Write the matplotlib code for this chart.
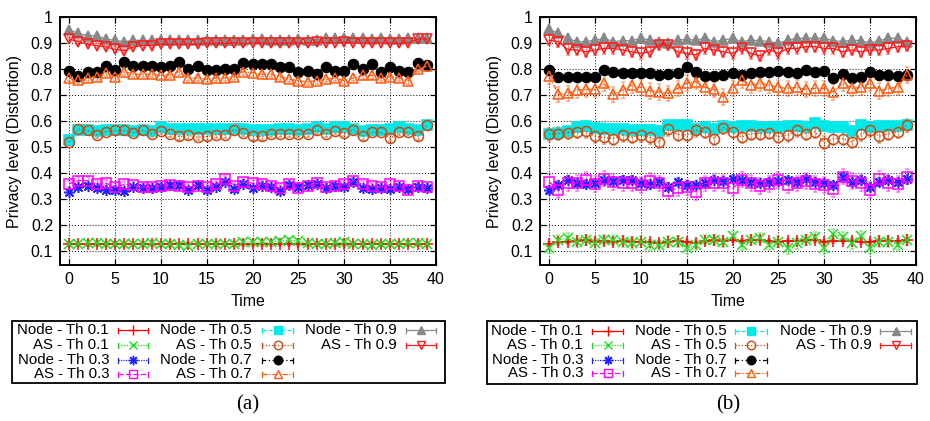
import matplotlib
matplotlib.use("Agg")
import matplotlib.pyplot as plt
from matplotlib.patches import Rectangle
from matplotlib.colors import to_rgba

plt.rcParams['font.family'] = ['Liberation Sans', 'DejaVu Sans']

# ---------------- data ----------------
time = list(range(40))
labels = ["Node - Th 0.1", "AS - Th 0.1", "Node - Th 0.3", "AS - Th 0.3",
          "Node - Th 0.5", "AS - Th 0.5", "Node - Th 0.7", "AS - Th 0.7",
          "Node - Th 0.9", "AS - Th 0.9"]
x_ticks = [0, 5, 10, 15, 20, 25, 30, 35, 40]
y_ticks = [0.1, 0.2, 0.3, 0.4, 0.5, 0.6, 0.7, 0.8, 0.9, 1.0]
y_tick_labels = ["0.1", "0.2", "0.3", "0.4", "0.5", "0.6", "0.7", "0.8", "0.9", "1"]

# panel (a)
node01_a = [0.126, 0.125, 0.126, 0.125, 0.125, 0.126, 0.125, 0.125, 0.126, 0.125,
            0.125, 0.126, 0.125, 0.127, 0.125, 0.125, 0.126, 0.125, 0.125, 0.126,
            0.126, 0.126, 0.125, 0.126, 0.126, 0.125, 0.125, 0.126, 0.125, 0.126,
            0.126, 0.125, 0.125, 0.126, 0.125, 0.125, 0.126, 0.125, 0.126, 0.125]
as01_a = [0.127, 0.126, 0.128, 0.130, 0.127, 0.125, 0.124, 0.126, 0.124, 0.129,
          0.125, 0.124, 0.123, 0.120, 0.127, 0.126, 0.127, 0.126, 0.127, 0.133,
          0.135, 0.132, 0.134, 0.138, 0.140, 0.138, 0.128, 0.126, 0.127, 0.128,
          0.133, 0.126, 0.124, 0.123, 0.125, 0.126, 0.125, 0.128, 0.130, 0.124]
node03_a = [0.327, 0.344, 0.350, 0.340, 0.333, 0.333, 0.330, 0.344, 0.340, 0.340,
            0.346, 0.352, 0.352, 0.333, 0.352, 0.333, 0.346, 0.365, 0.336, 0.358,
            0.340, 0.350, 0.344, 0.330, 0.352, 0.346, 0.352, 0.356, 0.340, 0.350,
            0.346, 0.365, 0.340, 0.336, 0.340, 0.336, 0.344, 0.336, 0.346, 0.340]
as03_a = [0.358, 0.370, 0.370, 0.355, 0.360, 0.345, 0.355, 0.352, 0.345, 0.345,
          0.350, 0.352, 0.350, 0.345, 0.350, 0.345, 0.355, 0.375, 0.350, 0.365,
          0.360, 0.355, 0.350, 0.340, 0.355, 0.340, 0.350, 0.360, 0.345, 0.350,
          0.355, 0.370, 0.355, 0.350, 0.345, 0.355, 0.350, 0.335, 0.350, 0.345]
node05_a = [0.525, 0.565, 0.565, 0.560, 0.565, 0.565, 0.565, 0.560, 0.565, 0.560,
            0.575, 0.570, 0.570, 0.570, 0.570, 0.568, 0.568, 0.570, 0.570, 0.568,
            0.565, 0.565, 0.565, 0.568, 0.568, 0.565, 0.568, 0.575, 0.570, 0.575,
            0.578, 0.570, 0.560, 0.565, 0.565, 0.570, 0.575, 0.570, 0.565, 0.583]
as05_a = [0.520, 0.568, 0.563, 0.546, 0.559, 0.563, 0.563, 0.555, 0.563, 0.550,
          0.560, 0.550, 0.540, 0.544, 0.537, 0.540, 0.547, 0.547, 0.566, 0.553,
          0.540, 0.540, 0.550, 0.550, 0.550, 0.550, 0.550, 0.563, 0.550, 0.560,
          0.553, 0.566, 0.540, 0.556, 0.556, 0.533, 0.556, 0.556, 0.540, 0.583]
node07_a = [0.792, 0.773, 0.790, 0.787, 0.810, 0.797, 0.826, 0.813, 0.813, 0.813,
            0.806, 0.813, 0.826, 0.800, 0.813, 0.797, 0.797, 0.800, 0.800, 0.823,
            0.818, 0.818, 0.818, 0.806, 0.806, 0.787, 0.792, 0.780, 0.806, 0.792,
            0.792, 0.818, 0.800, 0.820, 0.787, 0.806, 0.792, 0.790, 0.823, 0.815]
as07_a = [0.765, 0.757, 0.765, 0.770, 0.785, 0.770, 0.790, 0.780, 0.780, 0.780,
          0.775, 0.777, 0.790, 0.765, 0.765, 0.760, 0.765, 0.765, 0.770, 0.790,
          0.785, 0.780, 0.780, 0.770, 0.760, 0.755, 0.750, 0.755, 0.760, 0.765,
          0.755, 0.765, 0.775, 0.775, 0.765, 0.770, 0.765, 0.755, 0.800, 0.810]
node09_a = [0.950, 0.937, 0.928, 0.928, 0.915, 0.910, 0.905, 0.910, 0.910, 0.910,
            0.910, 0.912, 0.910, 0.912, 0.912, 0.912, 0.912, 0.910, 0.912, 0.912,
            0.915, 0.915, 0.912, 0.912, 0.912, 0.915, 0.912, 0.912, 0.918, 0.920,
            0.918, 0.918, 0.918, 0.915, 0.918, 0.915, 0.915, 0.918, 0.918, 0.920]
as09_a = [0.915, 0.905, 0.895, 0.890, 0.885, 0.875, 0.870, 0.885, 0.890, 0.890,
          0.895, 0.895, 0.895, 0.895, 0.895, 0.898, 0.898, 0.898, 0.900, 0.898,
          0.900, 0.900, 0.898, 0.898, 0.900, 0.900, 0.900, 0.902, 0.900, 0.900,
          0.902, 0.900, 0.900, 0.900, 0.900, 0.900, 0.898, 0.900, 0.915, 0.915]
err_a = [0.006, 0.008, 0.010, 0.012, 0.008, 0.012, 0.008, 0.012, 0.005, 0.008]

# panel (b)
node01_b = [0.125, 0.133, 0.135, 0.138, 0.140, 0.135, 0.138, 0.135, 0.138, 0.135,
            0.135, 0.132, 0.130, 0.135, 0.138, 0.133, 0.130, 0.138, 0.140, 0.138,
            0.140, 0.138, 0.142, 0.140, 0.138, 0.135, 0.138, 0.136, 0.140, 0.140,
            0.135, 0.137, 0.138, 0.138, 0.135, 0.135, 0.138, 0.138, 0.138, 0.140]
as01_b = [0.110, 0.141, 0.148, 0.135, 0.141, 0.128, 0.141, 0.141, 0.135, 0.128,
          0.135, 0.122, 0.122, 0.135, 0.135, 0.109, 0.122, 0.141, 0.141, 0.135,
          0.156, 0.122, 0.141, 0.148, 0.122, 0.135, 0.109, 0.128, 0.141, 0.154,
          0.109, 0.163, 0.154, 0.128, 0.155, 0.109, 0.135, 0.135, 0.122, 0.141]
node03_b = [0.333, 0.352, 0.374, 0.361, 0.356, 0.361, 0.374, 0.369, 0.374, 0.372,
            0.361, 0.356, 0.365, 0.344, 0.365, 0.352, 0.352, 0.359, 0.374, 0.369,
            0.378, 0.374, 0.365, 0.359, 0.365, 0.369, 0.374, 0.365, 0.378, 0.365,
            0.361, 0.352, 0.385, 0.365, 0.372, 0.346, 0.365, 0.372, 0.365, 0.378]
as03_b = [0.365, 0.333, 0.359, 0.361, 0.372, 0.356, 0.378, 0.365, 0.359, 0.359,
          0.352, 0.369, 0.359, 0.331, 0.340, 0.344, 0.327, 0.359, 0.361, 0.361,
          0.340, 0.374, 0.361, 0.349, 0.356, 0.372, 0.352, 0.359, 0.369, 0.356,
          0.352, 0.336, 0.385, 0.369, 0.361, 0.333, 0.378, 0.361, 0.356, 0.385]
node05_b = [0.550, 0.553, 0.562, 0.577, 0.580, 0.572, 0.570, 0.567, 0.567, 0.565,
            0.565, 0.565, 0.562, 0.583, 0.585, 0.583, 0.570, 0.575, 0.570, 0.580,
            0.575, 0.580, 0.580, 0.575, 0.575, 0.578, 0.580, 0.580, 0.578, 0.590,
            0.580, 0.575, 0.575, 0.562, 0.585, 0.575, 0.580, 0.580, 0.580, 0.583]
as05_b = [0.549, 0.551, 0.555, 0.558, 0.560, 0.541, 0.536, 0.532, 0.545, 0.538,
          0.545, 0.536, 0.519, 0.567, 0.547, 0.547, 0.564, 0.558, 0.532, 0.574,
          0.558, 0.538, 0.551, 0.551, 0.555, 0.538, 0.545, 0.564, 0.551, 0.558,
          0.515, 0.532, 0.532, 0.519, 0.549, 0.564, 0.541, 0.551, 0.558, 0.583]
node07_b = [0.796, 0.770, 0.770, 0.770, 0.770, 0.770, 0.796, 0.790, 0.783, 0.783,
            0.783, 0.786, 0.777, 0.779, 0.783, 0.806, 0.790, 0.773, 0.773, 0.777,
            0.783, 0.777, 0.783, 0.790, 0.790, 0.793, 0.790, 0.783, 0.796, 0.790,
            0.793, 0.764, 0.780, 0.764, 0.770, 0.790, 0.777, 0.777, 0.773, 0.777]
as07_b = [0.773, 0.702, 0.706, 0.719, 0.721, 0.721, 0.745, 0.702, 0.719, 0.738,
          0.729, 0.716, 0.712, 0.706, 0.725, 0.745, 0.751, 0.729, 0.721, 0.693,
          0.725, 0.757, 0.738, 0.745, 0.738, 0.729, 0.725, 0.729, 0.721, 0.725,
          0.725, 0.712, 0.745, 0.725, 0.729, 0.745, 0.716, 0.725, 0.729, 0.777]
node09_b = [0.952, 0.937, 0.918, 0.905, 0.905, 0.911, 0.918, 0.905, 0.909, 0.909,
            0.918, 0.911, 0.905, 0.899, 0.911, 0.914, 0.911, 0.918, 0.905, 0.911,
            0.918, 0.905, 0.911, 0.909, 0.905, 0.899, 0.911, 0.918, 0.918, 0.918,
            0.918, 0.909, 0.905, 0.911, 0.909, 0.899, 0.909, 0.918, 0.918, 0.905]
as09_b = [0.911, 0.905, 0.875, 0.873, 0.866, 0.873, 0.879, 0.879, 0.873, 0.866,
          0.860, 0.866, 0.892, 0.892, 0.866, 0.860, 0.854, 0.879, 0.873, 0.866,
          0.860, 0.879, 0.860, 0.850, 0.875, 0.860, 0.879, 0.879, 0.886, 0.886,
          0.879, 0.879, 0.866, 0.873, 0.866, 0.873, 0.873, 0.879, 0.886, 0.888]
err_b = [0.008, 0.020, 0.015, 0.030, 0.020, 0.025, 0.012, 0.030, 0.006, 0.020]

panel_a = [node01_a, as01_a, node03_a, as03_a, node05_a, as05_a, node07_a, as07_a, node09_a, as09_a]
panel_b = [node01_b, as01_b, node03_b, as03_b, node05_b, as05_b, node07_b, as07_b, node09_b, as09_b]

# ---------------- styles ----------------
colors = ["#ff0000", "#22dd22", "#2222ff", "#ff00ff", "#00e8e8",
          "#cc4a10", "#000000", "#ff5a10", "#888888", "#ff1a1a"]
markers = ["+", "x", (8, 2, 0), "s", "s", "o", "o", "^", "^", "v"]
filled = [True, True, True, False, True, False, True, False, True, False]
msizes = [8, 6.5, 8, 7.5, 7, 7.2, 7.2, 7.2, 6.5, 7.2]
lstyles = ["-", (0, (1, 1.2)), (0, (1, 1)), (0, (4, 2)), (0, (3, 2)),
           (0, (1, 1.5)), (0, (3, 2, 1, 2, 1, 2)), (0, (4, 1.5, 1, 1.5)), "-", "-"]

W, H = 930, 421
fig = plt.figure(figsize=(W / 100, H / 100), dpi=100)

axes_px = [(60, 17, 436, 265), (540, 17, 916, 265)]


def px_axes(x0, y0, x1, y1):
    return fig.add_axes([x0 / W, 1 - y1 / H, (x1 - x0) / W, (y1 - y0) / H])


for (x0, y0, x1, y1), data, errs in zip(axes_px, [panel_a, panel_b], [err_a, err_b]):
    ax = px_axes(x0, y0, x1, y1)
    for i, y in enumerate(data):
        c = colors[i]
        ax.errorbar(time, y, yerr=errs[i], color=c, ls=lstyles[i], lw=0.9,
                    marker=markers[i], ms=msizes[i],
                    mfc=c if filled[i] else "none", mec=c, mew=1.1,
                    ecolor=to_rgba(c, 0.5), elinewidth=0.9, capsize=1.5, capthick=0.9)
    ax.set_xlim(-1, 40)
    ax.set_ylim(0.045, 1.0)
    ax.set_xticks(x_ticks)
    ax.set_yticks(y_ticks)
    ax.set_yticklabels(y_tick_labels)
    ax.grid(True, color="black", ls=(0, (1, 2)), lw=0.7)
    ax.set_axisbelow(True)
    ax.tick_params(direction="in", top=True, right=True, length=4, width=0.9,
                   labelsize=11.5, pad=5)
    for s in ax.spines.values():
        s.set_linewidth(1.4)
    ax.set_xlabel("Time", fontsize=11.5, labelpad=5)
    ax.set_ylabel("Privacy level (Distortion)", fontsize=11.5, labelpad=6)

# ---------------- legends and captions (pixel overlay) ----------------
ov = fig.add_axes([0, 0, 1, 1])
ov.set_xlim(0, W)
ov.set_ylim(H, 0)
ov.axis("off")

legend_specs = [
    dict(box=(12, 321, 445, 383), rows=[330, 345, 360, 374],
         cols=[(109, 118, 148), (252, 262, 293), (397, 406, 436)]),
    dict(box=(487, 321, 917, 384), rows=[331, 345, 360, 373],
         cols=[(583, 592, 623), (727, 735, 767), (872, 880, 911)]),
]
for spec in legend_specs:
    bx0, by0, bx1, by1 = spec["box"]
    ov.add_patch(Rectangle((bx0, by0), bx1 - bx0, by1 - by0, fill=False,
                           ec="black", lw=1.3))
    for i, lab in enumerate(labels):
        col, row = divmod(i, 4)
        tx, sx0, sx1 = spec["cols"][col]
        ry = spec["rows"][row]
        c = colors[i]
        ov.text(tx, ry, lab, ha="right", va="center", fontsize=10.8)
        ov.plot([sx0, sx1], [ry, ry], color=c, ls=lstyles[i], lw=0.9)
        ov.plot([sx0, sx0], [ry - 2.5, ry + 2.5], color=c, lw=0.9)
        ov.plot([sx1, sx1], [ry - 2.5, ry + 2.5], color=c, lw=0.9)
        ov.plot([(sx0 + sx1) / 2], [ry], marker=markers[i], ms=msizes[i] * 0.85, color=c,
                mfc=c if filled[i] else "none", mec=c, mew=1.0, ls="none")

for (x0, y0, x1, y1), cap in zip(axes_px, ["(a)", "(b)"]):
    ov.text((x0 + x1) / 2, 405, cap, ha="center", va="center", fontsize=15,
            family=["Liberation Serif", "DejaVu Serif"])

fig.savefig("out.png", dpi=100)
